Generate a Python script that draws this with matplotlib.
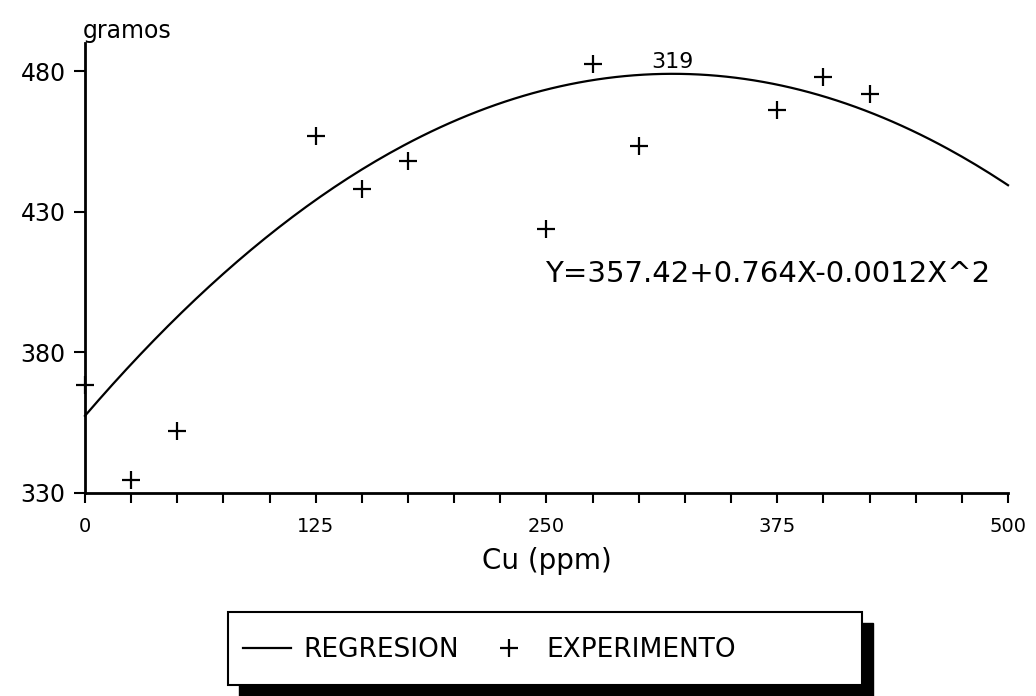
import numpy as np
import matplotlib
matplotlib.use("Agg")
import matplotlib.pyplot as plt
from matplotlib.patches import Rectangle

# ---- data ----
exp_x = [0, 25, 50, 125, 150, 175, 250, 275, 300, 375, 400, 425]
exp_y = [368.5, 334.5, 352, 457, 438, 448, 424, 482.5, 453.5, 466, 478, 472]

# regression coefficients as printed on the chart
b0, b1, b2 = 357.42, 0.764, -0.0012
curve_x = np.linspace(0, 500, 201)
curve_y = b0 + b1 * curve_x + b2 * curve_x ** 2

x_major = [0, 125, 250, 375, 500]
x_minor = list(range(0, 501, 25))
y_major = [330, 380, 430, 480]

plt.rcParams['font.family'] = ['DejaVu Sans']

fig = plt.figure(figsize=(10.36, 6.96), dpi=100)
ax = fig.add_axes([0.082, 0.2917, 0.891, 0.6466])

reg_line, = ax.plot(curve_x, curve_y, color='black', lw=1.6, label='REGRESION',
                    clip_on=False)
exp_pts, = ax.plot(exp_x, exp_y, ls='none', marker='+', ms=13, mew=1.6,
                   color='black', label='EXPERIMENTO', clip_on=False, zorder=4)

ax.set_xlim(0, 500)
ax.set_ylim(330, 490)
for s in ['top', 'right']:
    ax.spines[s].set_visible(False)
for s in ['left', 'bottom']:
    ax.spines[s].set_linewidth(2)

ax.set_xticks(x_minor, minor=True)
ax.set_xticks(x_major)
ax.set_xticklabels([str(v) for v in x_major], fontsize=14)
ax.set_yticks(y_major)
ax.set_yticklabels([str(v) for v in y_major], fontsize=17)
ax.tick_params(axis='x', which='both', direction='out', length=7, width=1.5, pad=10)
ax.tick_params(axis='y', direction='out', length=8, width=1.5, pad=6)

ax.set_xlabel('Cu (ppm)', fontsize=20, labelpad=8)
fig.text(0.080, 0.955, 'gramos', fontsize=17, ha='left', va='center')

ax.text(249, 408, 'Y=357.42+0.764X-0.0012X^2', fontsize=21, ha='left', va='center')
ax.text(318, 479.5, '319', fontsize=16, ha='center', va='bottom')

# legend box with heavy shadow
W, H = 1036.0, 696.0
bx0, bx1, by0, by1 = 228, 862, 612, 685
sh = 11
fig.patches.append(Rectangle(((bx0 + sh) / W, (H - by1 - sh) / H),
                             (bx1 - bx0) / W, (by1 - by0) / H,
                             transform=fig.transFigure, facecolor='black',
                             edgecolor='black', zorder=1))
fig.patches.append(Rectangle((bx0 / W, (H - by1) / H),
                             (bx1 - bx0) / W, (by1 - by0) / H,
                             transform=fig.transFigure, facecolor='white',
                             edgecolor='black', lw=1.5, zorder=2))
leg = fig.legend(handles=[reg_line, exp_pts], loc='center left',
                 bbox_to_anchor=(243 / W, (H - 650) / H),
                 borderaxespad=0, borderpad=0,
                 ncol=2, frameon=False, fontsize=19, handlelength=1.8,
                 handletextpad=0.5, columnspacing=1.0)
leg.set_zorder(3)

fig.savefig('out.png', dpi=100)
